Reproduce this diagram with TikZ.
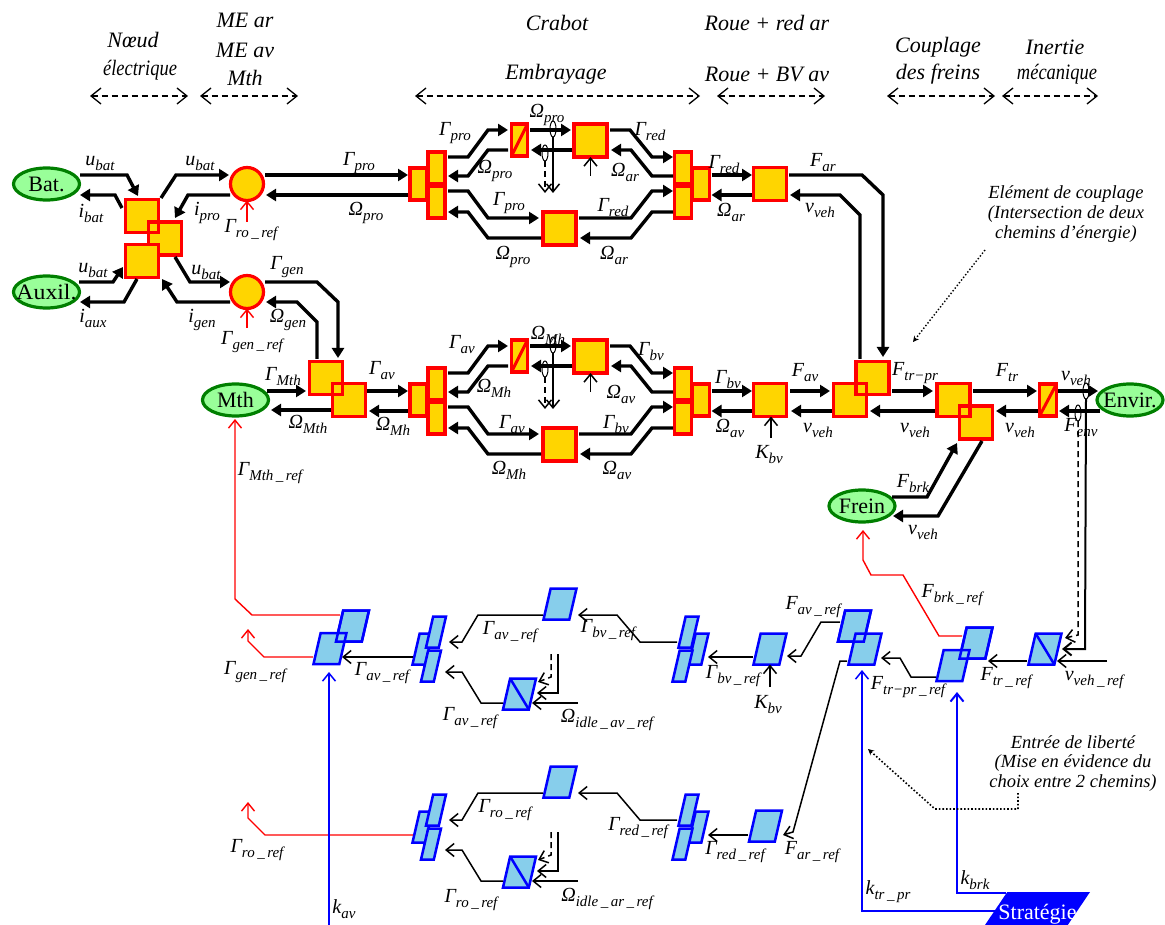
\documentclass[tikz,border=0pt]{standalone}
\usepackage{fontspec}
\setmainfont{Liberation Serif}
\usetikzlibrary{arrows.meta,shapes.geometric}
\definecolor{gold}{HTML}{FFD500}
\definecolor{sky}{HTML}{87CEEB}
\definecolor{lgreen}{HTML}{99FF99}
\definecolor{dgreen}{HTML}{007F00}
\newcounter{lc}
\newcommand\vs[2]{\textit{#1}\raisebox{-5pt}{\fontsize{15}{15}\selectfont\textit{#2}}}
\newcommand\lab[3]{\stepcounter{lc}\node[lbl] (lab\arabic{lc}) at (#1,#2) {#3};}
\newcommand\hdr[3]{\stepcounter{lc}\node[hdrtxt] (lab\arabic{lc}) at (#1,#2) {#3};}
\newcommand\ann[3]{\stepcounter{lc}\node[anntxt] (lab\arabic{lc}) at (#1,#2) {#3};}
\newcommand\hd[3]{\coordinate (#1a) at (#2,96);\coordinate (#1b) at (#3,96);\draw[hdarrow] (#1a) -- (#1b);}
\newcommand\wire[8]{\draw[#1] ([shift={(#3,#4)}]#2.center) #5 -- ([shift={(#7,#8)}]#6.center);}
\newcommand\rowblock[2]{%
\begin{scope}[shift={(0,#2)}]
\node[sb,minimum width=17,minimum height=32] (L1#1) at (418.5,184) {};
\node[sb,minimum width=17,minimum height=32] (L2#1) at (436.5,168) {};
\node[sb,minimum width=17,minimum height=32] (L3#1) at (436.5,202) {};
\node[sb,minimum width=16,minimum height=32] (C1#1) at (519.5,140) {};
\draw[rd] (C1#1.south west) -- (C1#1.north east);
\node[sb] (B1#1) at (590.5,140.5) {};
\node[sb] (B2#1) at (559.5,228.5) {};
\node[sb,minimum width=17,minimum height=32] (R1#1) at (701,184) {};
\node[sb,minimum width=17,minimum height=32] (R2#1) at (683,168) {};
\node[sb,minimum width=17,minimum height=32] (R3#1) at (683,202) {};
\node[sb] (B3#1) at (770,184) {};
\wire{pw}{L2#1}{11.5}{-11}{-- (468,157) -- (488,130)}{C1#1}{-11.5}{-10}
\wire{pw}{C1#1}{-11.5}{10}{-- (488,150) -- (468,176)}{L2#1}{11.5}{8}
\wire{pw}{C1#1}{10.5}{-10}{}{B1#1}{-19.5}{-10.5}
\wire{pw}{B1#1}{-18.5}{9.5}{}{C1#1}{11.5}{10}
\wire{pw}{B1#1}{19.5}{-10.5}{-- (630,130) -- (652,157)}{R2#1}{-10}{-11}
\wire{pw}{R2#1}{-10}{8}{-- (652,176) -- (631,150)}{B1#1}{20.5}{9.5}
\wire{pw}{L3#1}{11.5}{-11}{-- (468,191) -- (488,218)}{B2#1}{-20.5}{-10.5}
\wire{pw}{B2#1}{-18.5}{9.5}{-- (488,238) -- (468,212)}{L3#1}{11.5}{10}
\wire{pw}{B2#1}{19.5}{-10.5}{-- (631,218) -- (652,191)}{R3#1}{-10}{-11}
\wire{pw}{R3#1}{-10}{10}{-- (652,212) -- (631,238)}{B2#1}{20.5}{9.5}
\wire{pw}{R1#1}{10.5}{-9}{}{B3#1}{-18}{-9}
\wire{pw}{B3#1}{-18}{11}{}{R1#1}{10.5}{11}
\node[sens] (en1#1) at (553,129) {};
\node[sens] (en2#1) at (545,153) {};
\coordinate (en1e#1) at (553,193);
\coordinate (en2e#1) at (545,193);
\coordinate (kb#1) at (590.5,176);
\draw[barb] (en1#1.south) -- (en1e#1);
\draw[barb,lngdash] (en2#1.south) -- (en2e#1);
\draw[barb] (kb#1) -- (B1#1.south);
\end{scope}}
\newcommand\idle[2]{%
\begin{scope}[shift={(0,#2)}]
\coordinate (ia#1) at (578,703);
\coordinate (ib#1) at (558,654);
\coordinate (ic#1) at (551,654);
\draw[barb] (ia#1) -- ([shift={(12.5,9)}]D1#1.center);
\draw[barb] (ib#1) -- (558,693) -- ([shift={(17.5,-1)}]D1#1.center);
\draw[barb,lngdash] (ic#1) -- (551,677) -- ([shift={(18.5,-12)}]D1#1.center);
\end{scope}}
\newcommand\lowblock[2]{%
\begin{scope}[shift={(0,#2)}]
\node[pnar] (Q1#1) at (422.5,649) {};
\node[pnar] (Q2#1) at (436,632) {};
\node[pnar] (Q3#1) at (431,666) {};
\node[pwide] (T1#1) at (560,604) {};
\node[pwide] (D1#1) at (519.5,694) {};
\draw[bl] (D1#1.top left corner) -- (D1#1.bottom right corner);
\node[pnar] (Qa#1) at (698.5,649) {};
\node[pnar] (Qb#1) at (688.5,632) {};
\node[pnar] (Qc#1) at (682.5,666) {};
\wire{barb}{T1#1}{-17}{11}{-- (478,615) -- (462,642)}{Q2#1}{13}{10}
\wire{barb}{D1#1}{-16.5}{9}{-- (481,703) -- (462,672)}{Q3#1}{14}{6}
\wire{barb}{Qb#1}{-11.5}{10}{-- (640,642) -- (617,615)}{T1#1}{18}{11}
\end{scope}}
\tikzset{
 lbl/.style={inner sep=0,outer sep=0,font=\fontsize{20}{22}\selectfont\itshape},
 hdrtxt/.style={inner sep=0,outer sep=0,font=\fontsize{22}{24}\selectfont\itshape},
 anntxt/.style={inner sep=0,outer sep=0,font=\fontsize{18.5}{20}\selectfont\itshape},
 pw/.style={line width=3.4pt,-{Triangle[length=10pt,width=12pt]}},
 barb/.style={line width=1.5pt,-{Straight Barb[length=8pt,width=13pt]}},
 lngdash/.style={dash pattern=on 6pt off 4pt},
 redb/.style={line width=1.4pt,red,-{Straight Barb[length=8pt,width=13pt]}},
 blueb/.style={line width=1.5pt,blue,-{Straight Barb[length=8pt,width=13pt]}},
 hdarrow/.style={line width=1.3pt,lngdash,{Straight Barb[length=10pt,width=16pt]}-{Straight Barb[length=10pt,width=16pt]}},
 sb/.style={rectangle,draw=red,fill=gold,line width=3.2pt,minimum size=33,inner sep=0,outer sep=0},
 sbo/.style={sb,fill=none},
 rd/.style={red,line width=3pt},
 bl/.style={blue,line width=2.5pt},
 sc/.style={circle,draw=red,fill=gold,line width=3.2pt,minimum size=33,inner sep=0,outer sep=0},
 src/.style={ellipse,draw=dgreen,fill=lgreen,line width=3.2pt,minimum width=66,minimum height=32,inner sep=0,outer sep=0,font=\fontsize{22}{22}\selectfont},
 sens/.style={ellipse,draw=black,line width=1pt,minimum width=6,minimum height=16,inner sep=0,outer sep=0},
 para/.style={trapezium,trapezium left angle=77,trapezium right angle=103,trapezium stretches body,draw=blue,fill=sky,line width=2.5pt,inner sep=0,outer sep=0,text height=31pt,text depth=0pt},
 pwide/.style={para,minimum width=33},
 pnar/.style={para,minimum width=20},
 pwo/.style={pwide,fill=none},
}
\begin{document}
\begin{tikzpicture}[x=1pt,y=-1pt]
\useasboundingbox (0,0) rectangle (1165,925);
% headers
\hdr{133}{40}{Nœud}
\hdr{140}{70}{\scalebox{0.84}[1]{électrique}}
\hdr{245}{20}{ME ar}
\hdr{245}{50}{ME av}
\hdr{245}{78}{Mth}
\hdr{557}{23}{Crabot}
\hdr{556}{74}{Embrayage}
\hdr{767}{23}{Roue + red ar}
\hdr{767}{74}{Roue + BV av}
\hdr{938}{47}{Couplage}
\hdr{938}{74}{des freins}
\hdr{1055}{47}{Inertie}
\hdr{1057}{74}{\scalebox{0.84}[1]{mécanique}}
\hd{ha}{90}{188}
\hd{hb}{200}{298}
\hd{hc}{415}{700}
\hd{hd}{717}{825}
\hd{he}{887}{995}
\hd{hf}{1002}{1098}
% sources
\node[src] (bat) at (46.5,184) {\makebox[0pt]{Bat.}};
\node[src] (aux) at (46.5,292) {\makebox[0pt]{\scalebox{1.08}[1]{Auxil.}}};
\node[src] (mth) at (235.5,400) {\makebox[0pt]{Mth}};
\node[src] (env) at (1130,400) {\makebox[0pt]{Envir.}};
\node[src] (frein) at (862,506) {\makebox[0pt]{Frein}};
% electrical coupling
\node[sb] (S1) at (142,216) {};
\node[sb] (S2) at (165,238.5) {};
\node[sb] (S3) at (142,261) {};
\node[sbo] (S1o) at (142,216) {};
\node[sc] (c1) at (247,184) {};
\node[sc] (c2) at (247,292) {};
\node[sb] (M1) at (326,378) {};
\node[sb] (M2) at (349,400) {};
\node[sbo] (M1o) at (326,378) {};
\rowblock{}{0}
\rowblock{b}{216}
\wire{pw}{bat}{33.5}{-9}{-- (127,175)}{S1}{-4}{-20}
\wire{pw}{S1}{-20}{-8}{-- (115,195)}{bat}{33.5}{11}
\wire{pw}{S1}{19}{-18}{-- (176,175)}{c1}{-18}{-9}
\wire{pw}{c1}{-17}{11}{-- (188,195)}{S2}{10}{-20.5}
\wire{pw}{aux}{32.5}{-10}{-- (113,282)}{S3}{-19}{6}
\wire{pw}{S3}{-5}{18}{-- (124,302)}{aux}{33.5}{10}
\wire{pw}{S2}{10}{18.5}{-- (190,282)}{c2}{-17}{-10}
\wire{pw}{c2}{-17}{10}{-- (177,302)}{S3}{20}{18}
\wire{pw}{c1}{18}{-9}{}{L1}{-10.5}{-9}
\wire{pw}{L1}{-10.5}{11}{}{c1}{19}{11}
\wire{pw}{c2}{18}{-10}{-- (317,282) -- (338,302)}{M1}{12}{-20}
\wire{pw}{M1}{-9}{-19}{-- (317,322) -- (297,302)}{c2}{19}{10}
\wire{pw}{mth}{31.5}{-9}{}{M1}{-20}{13}
\wire{pw}{M2}{-18}{10}{}{mth}{35.5}{10}
\wire{pw}{M2}{18}{-9}{}{L1b}{-10.5}{-9}
\wire{pw}{L1b}{-10.5}{11}{}{M2}{20}{11}
% right part
\node[sb] (E1) at (850,400) {};
\node[sb] (E2) at (872.5,378) {};
\node[sbo] (E1o) at (850,400) {};
\node[sb] (E3) at (953.5,400) {};
\node[sb] (E4) at (976,422.5) {};
\node[sbo] (E3o) at (953.5,400) {};
\node[sb,minimum width=17,minimum height=32] (E5) at (1048,400) {};
\draw[rd] (E5.south west) -- (E5.north east);
\wire{pw}{B3}{19}{-9}{-- (862,175) -- (883,195)}{E2}{10.5}{-21}
\wire{pw}{E2}{-12.5}{-19}{-- (860,215) -- (840,195)}{B3}{20}{11}
\wire{pw}{B3b}{20}{-9}{}{E1}{-20}{-9}
\wire{pw}{E1}{-18}{11}{}{B3b}{21}{11}
\wire{pw}{E2}{19.5}{13}{}{E3}{-20.5}{-9}
\wire{pw}{E3}{-18.5}{11}{}{E1}{20}{11}
\wire{pw}{E3}{19.5}{-9}{}{E5}{-11}{-9}
\wire{pw}{E5}{-10}{11}{}{E4}{20}{-11.5}
\wire{pw}{E5}{10}{-9}{}{env}{-32}{-9}
\wire{pw}{env}{-30}{11}{}{E5}{11}{11}
\wire{pw}{E4}{6}{18.5}{-- (938,516)}{frein}{31}{10}
\wire{pw}{frein}{30}{-9}{-- (927,497)}{E4}{-19}{20.5}
% K arrow row 2
\coordinate (kv) at (771,438);
\draw[barb] (kv) -- (B3b.south -| kv);
% ref arrows top
\coordinate (rc1) at (247,222);
\coordinate (rc2) at (247,328);
\draw[redb] (rc1) -- (c1.south);
\draw[redb] (rc2) -- (c2.south);
% lower control blocks
\lowblock{}{0}
\lowblock{b}{178}
\idle{}{0}
\idle{b}{178}
\node[pwide] (P1) at (352.5,626) {};
\node[pwide] (P2) at (330,648.5) {};
\node[pwo] (P1o) at (352.5,626) {};
\node[pwide] (P4) at (770,649) {};
\node[pwide] (P5) at (765.5,826) {};
\node[pwide] (X1) at (854.5,626) {};
\node[pwide] (X2) at (865,649) {};
\node[pwo] (X1o) at (854.5,626) {};
\node[pwide] (Y2) at (976,643) {};
\node[pwide] (Y1) at (953,665.5) {};
\node[pwo] (Y2o) at (976,643) {};
\node[pwide] (Z) at (1045,649) {};
\draw[bl] (Z.top left corner) -- (Z.bottom right corner);
\wire{barb}{Q1}{-9.5}{8}{}{P2}{12}{8.5}
\wire{barb}{P4}{-17}{8}{}{Qa}{9.5}{8}
\wire{barb}{P5}{-17.5}{9}{}{Qab}{9.5}{8}
\wire{barb}{X1}{-14.5}{-4}{-- (821,622) -- (801,656)}{P4}{17}{7}
\wire{barb}{X2}{-18}{12}{-- (840,661) -- (793,832)}{P5}{17.5}{9}
\wire{barb}{Y1}{-17}{11.5}{-- (911,677) -- (900,658)}{X2}{16}{9}
\wire{barb}{Z}{-18}{12}{}{Y2}{12}{18}
\coordinate (vin) at (1107,661);
\draw[barb] (vin) -- ([shift={(12,12)}]Z.center);
\coordinate (kbv2) at (770,687);
\draw[barb] (kbv2) -- (P4.south);
% sensors at the wheel
\node[sens] (en3) at (1086,391) {};
\node[sens] (en4) at (1078,413) {};
\draw[line width=2pt,-{Straight Barb[length=8pt,width=13pt]}] (en3.south) -- (1085,649) -- ([shift={(17,0)}]Z.center);
\draw[line width=1.5pt,lngdash,-{Straight Barb[length=8pt,width=13pt]}] (en4.south) -- (1078,635) -- ([shift={(20,-11)}]Z.center);
% red references
\coordinate (rg) at (248,629);
\coordinate (rr) at (248,802);
\draw[redb] ([shift={(-17,8.5)}]P2.center) -- (264,657) -- (248,641) -- (rg);
\draw[redb] ([shift={(-9.5,8)}]Q1b.center) -- (265,835) -- (248,818) -- (rr);
\wire{redb}{P1}{-12.5}{-11}{-- (252,615) -- (235,599)}{mth}{-0.5}{19}
\wire{redb}{Y2}{-14}{-7}{-- (939,636) -- (903,575) -- (871,575) -- (863,560)}{frein}{1}{24}
% strategy
\node[trapezium,trapezium left angle=56,trapezium right angle=124,trapezium stretches body,fill=blue,text=white,minimum width=105,text height=33pt,text depth=0pt,inner sep=0,outer sep=0,font=\fontsize{22}{22}\selectfont] (st) at (1037.5,908.5) {\makebox[0pt]{\raisebox{6pt}{Stratégie}}};
\coordinate (kav) at (329,925);
\draw[blueb] (kav) -- ([shift={(-1,23.5)}]P2.center);
\wire{blueb}{st}{-42.5}{2.5}{-- (862,911)}{X2}{-3}{21}
\wire{blueb,line width=2pt}{st}{-31.5}{-15.5}{-- (957,893)}{Y1}{4}{26.5}
% dotted annotations
\coordinate (da1) at (985,250);
\coordinate (da2) at (913,342);
\draw[line width=1.4pt,dotted,-{Stealth[length=6pt,width=6pt]}] (da1) -- (da2);
\coordinate (db1) at (1018,793);
\coordinate (db2) at (868,749);
\draw[line width=1.6pt,dotted,-{Stealth[length=6pt,width=6pt]}] (db1) -- (1018,809) -- (935,809) -- (db2);
% labels power
\lab{100}{163}{\vs{u}{bat}}
\lab{91}{213}{\vs{i}{bat}}
\lab{200}{163}{\vs{u}{bat}}
\lab{207}{213}{\vs{i}{pro}}
\lab{251}{230}{\vs{Γ}{ro\,\_\,ref}}
\lab{93}{270}{\vs{u}{bat}}
\lab{93}{318}{\vs{i}{aux}}
\lab{206}{272}{\vs{u}{bat}}
\lab{287}{267}{\vs{Γ}{gen}}
\lab{202}{320}{\vs{i}{gen}}
\lab{288}{320}{\vs{Ω}{gen}}
\lab{252}{342}{\vs{Γ}{gen\,\_\,ref}}
\lab{283}{377}{\vs{Γ}{Mth}}
\lab{359}{163}{\vs{Γ}{pro}}
\lab{366}{213}{\vs{Ω}{pro}}
\lab{455}{133}{\vs{Γ}{pro}}
\lab{547}{115}{\vs{Ω}{pro}}
\lab{650}{132}{\vs{Γ}{red}}
\lab{495}{171}{\vs{Ω}{pro}}
\lab{625}{172}{\vs{Ω}{ar}}
\lab{724}{165}{\vs{Γ}{red}}
\lab{509}{203}{\vs{Γ}{pro}}
\lab{613}{208}{\vs{Γ}{red}}
\lab{513}{257}{\vs{Ω}{pro}}
\lab{614}{255}{\vs{Ω}{ar}}
\lab{731}{212}{\vs{Ω}{ar}}
\lab{823}{163}{\vs{F}{ar}}
\lab{820}{210}{\vs{v}{veh}}
\lab{462}{345}{\vs{Γ}{av}}
\lab{548}{335}{\vs{Ω}{Mh}}
\lab{651}{352}{\vs{Γ}{bv}}
\lab{494}{388}{\vs{Ω}{Mh}}
\lab{621}{394}{\vs{Ω}{av}}
\lab{728}{380}{\vs{Γ}{bv}}
\lab{512}{425}{\vs{Γ}{av}}
\lab{616}{425}{\vs{Γ}{bv}}
\lab{509}{470}{\vs{Ω}{Mh}}
\lab{617}{470}{\vs{Ω}{av}}
\lab{730}{428}{\vs{Ω}{av}}
\lab{769}{455}{\vs{K}{bv}}
\lab{382}{371}{\vs{Γ}{av}}
\lab{393}{426}{\vs{Ω}{Mh}}
\lab{308}{424}{\vs{Ω}{Mth}}
\lab{270}{473}{\vs{Γ}{Mth\,\_\,ref}}
\lab{805}{373}{\vs{F}{av}}
\lab{818}{430}{\vs{v}{veh}}
\lab{915}{373}{\vs{F}{tr−pr}}
\lab{915}{430}{\vs{v}{veh}}
\lab{1007}{373}{\vs{F}{tr}}
\lab{1020}{430}{\vs{v}{veh}}
\lab{1076}{378}{\vs{v}{veh}}
\lab{1081}{428}{\vs{F}{env}}
\lab{913}{484}{\vs{F}{brk}}
\lab{923}{532}{\vs{v}{veh}}
% labels control
\lab{255}{672}{\vs{Γ}{gen\,\_\,ref}}
\lab{382}{673}{\vs{Γ}{av\,\_\,ref}}
\lab{510}{632}{\vs{Γ}{av\,\_\,ref}}
\lab{608}{630}{\vs{Γ}{bv\,\_\,ref}}
\lab{470}{718}{\vs{Γ}{av\,\_\,ref}}
\lab{607}{720}{\vs{Ω}{idle\,\_\,av\,\_\,ref}}
\lab{257}{850}{\vs{Γ}{ro\,\_\,ref}}
\lab{505}{810}{\vs{Γ}{ro\,\_\,ref}}
\lab{471}{900}{\vs{Γ}{ro\,\_\,ref}}
\lab{607}{899}{\vs{Ω}{idle\,\_\,ar\,\_\,ref}}
\lab{344}{909}{\vs{k}{av}}
\lab{638}{828}{\vs{Γ}{red\,\_\,ref}}
\lab{813}{607}{\vs{F}{av\,\_\,ref}}
\lab{733}{676}{\vs{Γ}{bv\,\_\,ref}}
\lab{768}{705}{\vs{K}{bv}}
\lab{908}{687}{\vs{F}{tr−pr\,\_\,ref}}
\lab{1006}{678}{\vs{F}{tr\,\_\,ref}}
\lab{1094}{680}{\vs{v}{veh\,\_\,ref}}
\lab{952}{595}{\vs{F}{brk\,\_\,ref}}
\lab{735}{852}{\vs{Γ}{red\,\_\,ref}}
\lab{812}{852}{\vs{F}{ar\,\_\,ref}}
\lab{888}{892}{\vs{k}{tr\,\_\,pr}}
\lab{975}{880}{\vs{k}{brk}}
% annotations
\ann{1066}{194}{Elément de couplage}
\ann{1066}{214}{(Intersection de deux}
\ann{1066}{234}{chemins d’énergie)}
\ann{1073}{742}{Entrée de liberté}
\ann{1073}{763}{(Mise en évidence du}
\ann{1073}{783}{choix entre 2 chemins)}
\end{tikzpicture}
\end{document}
